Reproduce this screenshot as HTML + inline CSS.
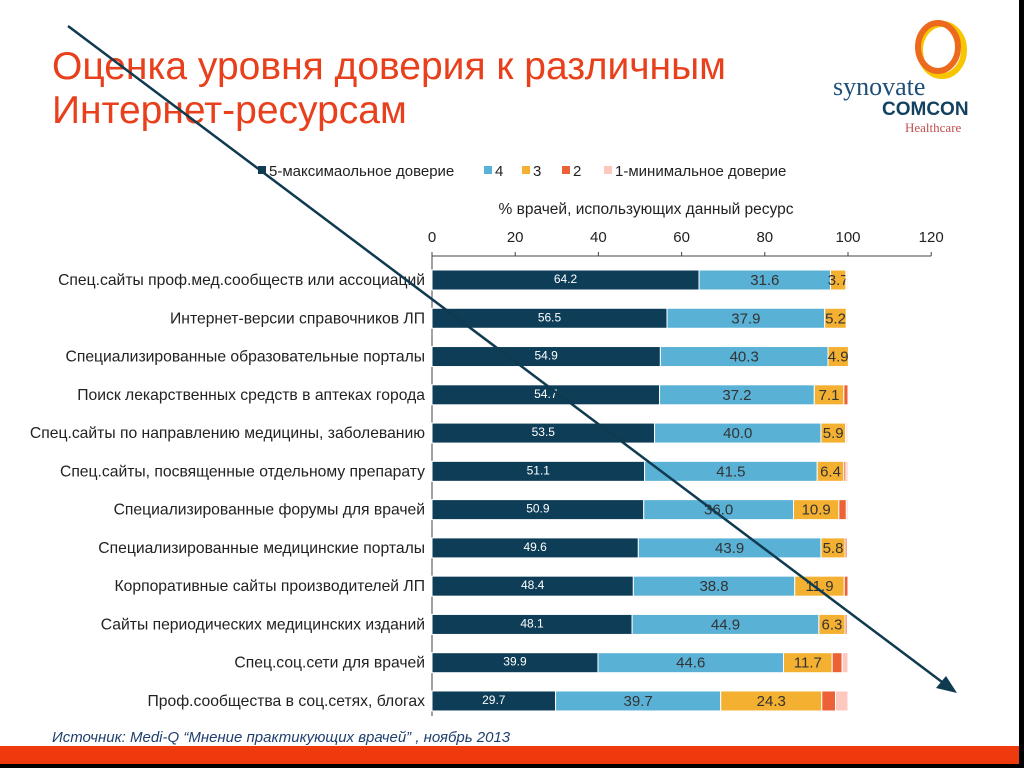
<!DOCTYPE html>
<html><head><meta charset="utf-8">
<style>
body{margin:0;width:1024px;height:768px;background:#fff;overflow:hidden;position:relative;font-family:"Liberation Sans",sans-serif}
.t{position:absolute;left:52px;top:45px;font-size:39px;line-height:44px;color:#e8401c}
</style></head><body>
<div class="t">Оценка уровня доверия к различным<br>Интернет-ресурсам</div>
<svg style="position:absolute;left:830px;top:15px" width="150" height="125">
 <ellipse cx="112" cy="35" rx="22" ry="26" fill="none" stroke="#f7c600" stroke-width="6"/>
 <ellipse cx="108" cy="32" rx="20" ry="24" fill="none" stroke="#ec6a1e" stroke-width="6"/>
 <text x="3" y="80" font-family="Liberation Serif" font-size="26" fill="#1f4e79">synovate</text>
 <text x="52" y="100" font-family="Liberation Sans" font-weight="bold" font-size="19" fill="#13415f">COMCON</text>
 <text x="75" y="117" font-family="Liberation Serif" font-size="13" fill="#c0504d">Healthcare</text>
</svg>
<svg id="c" width="1024" height="768" style="position:absolute;left:0;top:0"></svg>
<div style="position:absolute;left:52px;top:729px;font-size:15px;font-style:italic;color:#1f3f6e">Источник: Medi-Q “Мнение практикующих врачей” , ноябрь 2013</div>
<div style="position:absolute;left:0;top:746px;width:1024px;height:18px;background:#ee3a0c"></div>
<div style="position:absolute;left:0;top:764px;width:1024px;height:4px;background:#000"></div>
<div style="position:absolute;left:1019px;top:0;width:5px;height:768px;background:#000"></div>
<script>
const categories=["Спец.сайты проф.мед.сообществ или ассоциаций","Интернет-версии справочников ЛП","Специализированные образовательные порталы","Поиск лекарственных средств в аптеках города","Спец.сайты по направлению медицины, заболеванию","Спец.сайты, посвященные отдельному препарату","Специализированные форумы для врачей","Специализированные медицинские порталы","Корпоративные сайты производителей ЛП","Сайты периодических медицинских изданий","Спец.соц.сети для врачей","Проф.сообщества в соц.сетях, блогах"];
const s5=[64.2,56.5,54.9,54.7,53.5,51.1,50.9,49.6,48.4,48.1,39.9,29.7];
const s4=[31.6,37.9,40.3,37.2,40.0,41.5,36.0,43.9,38.8,44.9,44.6,39.7];
const s3=[3.7,5.2,4.9,7.1,5.9,6.4,10.9,5.8,11.9,6.3,11.7,24.3];
const s2=[0.2,0.2,0,1.0,0.3,0.5,1.8,0.5,0.9,0.5,2.4,3.3];
const s1=[0.3,0.2,0,0,0.3,0.5,0.4,0.2,0,0.2,1.4,3.0];
const ticks=[0,20,40,60,80,100,120];
const seriesNames=["5-максимаольное доверие","4","3","2","1-минимальное доверие"];
const colors=["#0e3d57","#5ab1d6","#f4b030","#ec6236","#fcc8c0"];
const svg=document.getElementById('c');const NS='http://www.w3.org/2000/svg';
const x=v=>432+v*4.16, y=i=>280+i*38.27;
function el(t,a,txt){const e=document.createElementNS(NS,t);for(const k in a)e.setAttribute(k,a[k]);if(txt!==undefined)e.textContent=txt;svg.appendChild(e);return e;}
let ax=el('line',{x1:x(0),x2:x(120),y1:256,y2:256,stroke:'#444'});


let ay=el('line',{x1:x(0),x2:x(0),y1:256,y2:716,stroke:'#444'});


ticks.forEach(t=>{let e=el('text',{x:x(t),y:242,'text-anchor':'middle','font-size':15,fill:'#222','font-family':'Liberation Sans'},t);


el('line',{x1:x(t),x2:x(t),y1:252,y2:256,stroke:'#444'});});
let at=el('text',{x:646,y:214,'text-anchor':'middle','font-size':15.5,fill:'#222','font-family':'Liberation Sans'},'%  врачей, использующих данный ресурс');


const lx=[258,484,522,562,604];
seriesNames.forEach((n,k)=>{el('rect',{x:lx[k],y:166,width:8,height:8,fill:colors[k]});
let e=el('text',{x:lx[k]+11,y:176,'font-size':15,fill:'#222','font-family':'Liberation Sans'},n);

});
const all=[s5,s4,s3,s2,s1];
categories.forEach((c,i)=>{
 let l=el('text',{x:425,y:y(i)+5,'text-anchor':'end','font-size':15.7,fill:'#222','font-family':'Liberation Sans'},c);
 
 
 let acc=0;
 all.forEach((s,k)=>{const v=s[i];if(v<=0)return;
  let r=el('rect',{x:x(acc),y:y(i)-10,width:v*4.16,height:20,fill:colors[k],stroke:'#fff','stroke-width':1});
  
  
  if(k<3){let tx=el('text',{x:x(acc+v/2),y:y(i)+(k==0?3:5),'text-anchor':'middle','font-size':k==0?12:15,fill:k==0?'#fff':'#333','font-family':'Liberation Sans'},v.toFixed(1));
   
   }
  acc+=v;});
});
let d=el('line',{x1:68,y1:26,x2:950,y2:688,stroke:'#0f3a4f','stroke-width':2.5});


el('polygon',{points:'957,693 936,688 946,676',fill:'#0f3a4f'});
</script>
</body></html>
